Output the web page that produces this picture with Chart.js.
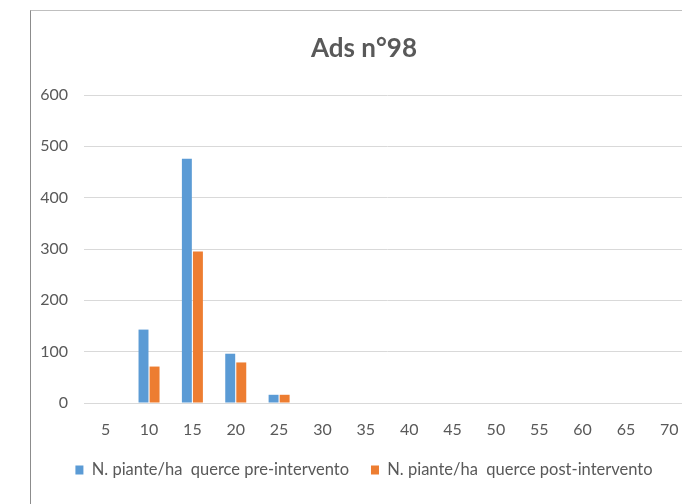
<!DOCTYPE html>
<html>
<head>
<meta charset="utf-8">
<script src="https://cdn.jsdelivr.net/npm/chart.js@4"></script>
<style>
  html, body { margin: 0; padding: 0; background: #fff; overflow: hidden; }
  #box {
    position: absolute; left: 30px; top: 10px;
    width: 700px; height: 520px;
    border-left: 1px solid #8c8c8c; border-top: 1px solid #bfbfbf;
  }
  #canvas1 { display: block; }
</style>
</head>
<body>
<div id="box"><canvas id="canvas1" width="680" height="493"></canvas></div>
<script>
// classi diametriche (cm)
let categorie = ["5", "10", "15", "20", "25", "30", "35", "40", "45", "50", "55", "60", "65", "70"];
let preIntervento = [0, 143, 476, 96, 16, 0, 0, 0, 0, 0, 0, 0, 0, 0];
let postIntervento = [0, 71, 295, 79, 16, 0, 0, 0, 0, 0, 0, 0, 0, 0];
let yTicks = [0, 100, 200, 300, 400, 500, 600];

let grigio = '#595959';
let fonte = 'Lato, sans-serif';

let contexto = document.getElementById('canvas1').getContext('2d');
let opciones = {
  type: "bar",
  data: {
    labels: categorie,
    datasets: [
      {
        label: "N. piante/ha  querce pre-intervento",
        data: preIntervento,
        backgroundColor: '#5b9bd5',
        categoryPercentage: 0.51,
        barPercentage: 0.9
      },
      {
        label: "N. piante/ha  querce post-intervento",
        data: postIntervento,
        backgroundColor: '#ed7d31',
        categoryPercentage: 0.51,
        barPercentage: 0.9
      }
    ]
  },
  options: {
    responsive: false,
    animation: false,
    layout: { padding: { left: 6, right: 20, top: 0, bottom: 15.75 } },
    plugins: {
      title: {
        display: true,
        text: "Ads n°98",
        color: grigio,
        font: { family: fonte, size: 26, weight: 'bold' },
        padding: { top: 22.4, bottom: 30.4 }
      },
      legend: {
        position: 'bottom',
        labels: {
          color: grigio,
          font: { family: fonte, size: 16.5 },
          boxWidth: 8,
          boxHeight: 9,
          padding: 22
        }
      },
      tooltip: { enabled: false }
    },
    scales: {
      x: {
        afterFit: (ax) => { ax.height = 36.75; },
        grid: { display: false, drawTicks: false },
        border: { display: true, color: '#d9d9d9' },
        ticks: { color: grigio, font: { family: fonte, size: 16 }, padding: 17.4, maxRotation: 0 }
      },
      y: {
        min: 0,
        max: 600,
        afterBuildTicks: (ax) => { ax.ticks = yTicks.map(v => ({ value: v })); },
        afterFit: (ax) => { ax.width = 47; },
        grid: { color: '#d9d9d9', drawTicks: false },
        border: { display: false },
        ticks: { color: grigio, font: { family: fonte, size: 16 }, padding: 16 }
      }
    }
  }
};

let grafica = new Chart(contexto, opciones);
</script>
</body>
</html>
